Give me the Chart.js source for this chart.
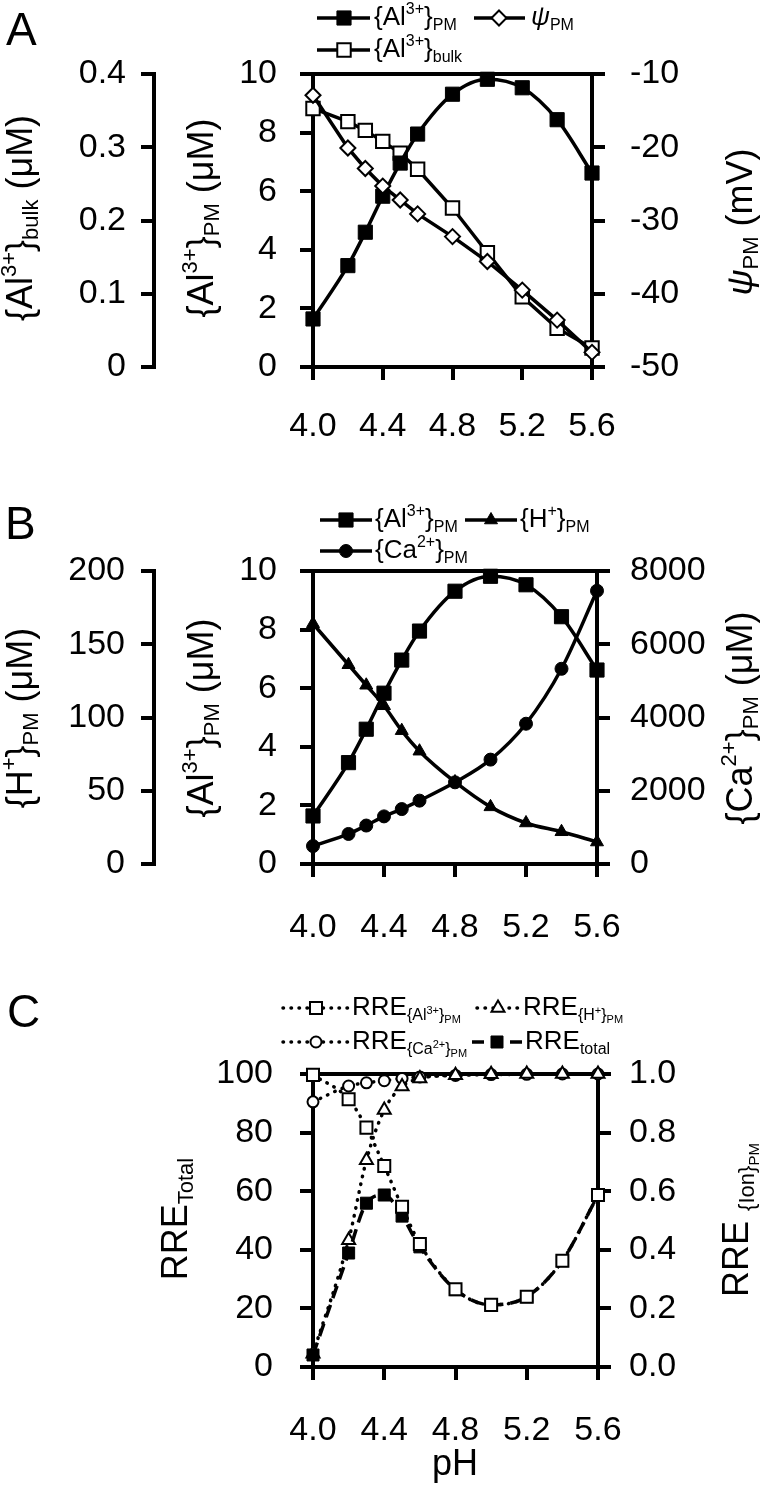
<!DOCTYPE html>
<html><head><meta charset="utf-8">
<script src="https://cdn.jsdelivr.net/npm/chart.js@4.4.1/dist/chart.umd.min.js"></script>
<style>
html,body{margin:0;padding:0;background:#fff;overflow:hidden}
.p{position:absolute;left:0;}
</style></head>
<body>
<canvas id="cA" class="p" style="top:0px" width="776" height="490"></canvas>
<canvas id="cB" class="p" style="top:490px" width="776" height="490"></canvas>
<canvas id="cC" class="p" style="top:980px" width="776" height="507"></canvas>
<script>
// ---------------- data ----------------
const pH = [4.0, 4.2, 4.3, 4.4, 4.5, 4.6, 4.8, 5.0, 5.2, 5.4, 5.6];
const alPM = [1.64, 3.46, 4.60, 5.83, 6.96, 7.95, 9.31, 9.82, 9.53, 8.44, 6.62];
const alBulk = [0.353, 0.335, 0.323, 0.308, 0.292, 0.270, 0.217, 0.156, 0.096, 0.053, 0.026];
const psiPM = [-12.9, -20.1, -22.9, -25.3, -27.2, -29.1, -32.2, -35.6, -39.5, -43.6, -48.0];
const hPM = [164, 136, 122, 108, 91, 77, 56, 39, 28, 22, 15];
const caPM = [490, 820, 1050, 1300, 1500, 1730, 2230, 2850, 3830, 5330, 7460];
const rreAl = [0.997, 0.914, 0.817, 0.686, 0.547, 0.420, 0.265, 0.212, 0.240, 0.363, 0.587];
const rreH = [0.045, 0.433, 0.706, 0.877, 0.957, 0.985, 0.996, 0.999, 1.0, 1.0, 1.0];
const rreCa = [0.905, 0.959, 0.970, 0.977, 0.985, 0.990, 0.995, 0.998, 0.999, 1.0, 1.0];
const rreTotal = [4.1, 38.9, 55.9, 58.7, 51.5, 41.0, 26.4, 21.2, 24.0, 36.3, 58.7];

// ---------------- ticks ----------------
const xTicks = [4.0, 4.4, 4.8, 5.2, 5.6];
const xLabels = ['4.0', '4.4', '4.8', '5.2', '5.6'];
const bulkTicks = [0, 0.1, 0.2, 0.3, 0.4];
const bulkLabels = ['0', '0.1', '0.2', '0.3', '0.4'];
const alTicks = [0, 2, 4, 6, 8, 10];
const alLabels = ['0', '2', '4', '6', '8', '10'];
const psiTicks = [-50, -40, -30, -20, -10];
const psiLabels = ['-50', '-40', '-30', '-20', '-10'];
const hTicks = [0, 50, 100, 150, 200];
const hLabels = ['0', '50', '100', '150', '200'];
const caTicks = [0, 2000, 4000, 6000, 8000];
const caLabels = ['0', '2000', '4000', '6000', '8000'];
const totTicks = [0, 20, 40, 60, 80, 100];
const totLabels = ['0', '20', '40', '60', '80', '100'];
const ionTicks = [0, 0.2, 0.4, 0.6, 0.8, 1.0];
const ionLabels = ['0.0', '0.2', '0.4', '0.6', '0.8', '1.0'];

// ---------------- helpers ----------------
const FONT = '"Liberation Sans", Arial, Helvetica, sans-serif';
const TICK_SIZE = 34;
const xy = (xs, ys) => xs.map((x, i) => ({x: x, y: ys[i]}));

function yScale(o) {
  return {
    type: 'linear', position: o.pos, min: o.min, max: o.max, weight: o.weight || 0,
    afterBuildTicks: s => { s.ticks = o.ticks.map(v => ({value: v})); },
    afterFit: s => { s.width = o.width; },
    ticks: {autoSkip: false, padding: o.pad, color: '#000', font: {family: FONT, size: TICK_SIZE},
            callback: (v, i) => o.labels[i]},
    grid: {display: true, drawOnChartArea: false, drawTicks: true, tickLength: 13, tickWidth: 4,
           tickColor: '#000', color: '#000', lineWidth: 4},
    border: {display: true, width: 4, color: '#000'}
  };
}
function xScale(h, pad) {
  return {
    type: 'linear', position: 'bottom', min: 4.0, max: 5.6,
    afterBuildTicks: s => { s.ticks = xTicks.map(v => ({value: v})); },
    afterFit: s => { s.height = h; },
    ticks: {autoSkip: false, maxRotation: 0, minRotation: 0, padding: pad, color: '#000',
            font: {family: FONT, size: TICK_SIZE}, callback: (v, i) => xLabels[i]},
    grid: {display: true, drawOnChartArea: false, drawTicks: true, tickLength: 13, tickWidth: 4,
           tickColor: '#000', color: '#000', lineWidth: 4},
    border: {display: true, width: 4, color: '#000'}
  };
}

// rich text segments
const N = t => ({t, s: 1, d: 0});
const I = t => ({t, s: 1, d: 0, i: true});
const SUP = t => ({t, s: 0.62, d: -0.33});
const SUB = t => ({t, s: 0.62, d: 0.28});
const SS = t => ({t, s: 0.43, d: 0.10});
const SB2 = t => ({t, s: 0.43, d: 0.46});
function segFont(s, base) { return (s.i ? 'italic ' : '') + Math.round(base * s.s) + 'px ' + FONT; }
function drawRich(ctx, segs, x, y, base, rot, align) {
  ctx.save();
  ctx.translate(x, y);
  if (rot) ctx.rotate(rot);
  let w = 0;
  for (const s of segs) { ctx.font = segFont(s, base); w += ctx.measureText(s.t).width; }
  let cx = align === 'left' ? 0 : -w / 2;
  ctx.textAlign = 'left'; ctx.textBaseline = 'middle'; ctx.fillStyle = '#000';
  for (const s of segs) {
    ctx.font = segFont(s, base);
    ctx.fillText(s.t, cx, s.d * base);
    cx += ctx.measureText(s.t).width;
  }
  ctx.restore();
}
function drawMarker(ctx, type, x, y, r, fill, stroke, lw) {
  ctx.save();
  ctx.setLineDash([]);
  ctx.beginPath();
  if (type === 'rect') { const s = r * Math.SQRT1_2; ctx.rect(x - s, y - s, 2 * s, 2 * s); }
  else if (type === 'rectRot') { ctx.moveTo(x, y - r); ctx.lineTo(x + r, y); ctx.lineTo(x, y + r); ctx.lineTo(x - r, y); ctx.closePath(); }
  else if (type === 'triangle') {
    let a = 0; ctx.moveTo(x + Math.sin(a) * r, y - Math.cos(a) * r);
    a += 2 * Math.PI / 3; ctx.lineTo(x + Math.sin(a) * r, y - Math.cos(a) * r);
    a += 2 * Math.PI / 3; ctx.lineTo(x + Math.sin(a) * r, y - Math.cos(a) * r);
    ctx.closePath();
  } else { ctx.arc(x, y, r, 0, Math.PI * 2); }
  ctx.fillStyle = fill; ctx.fill();
  if (lw > 0) { ctx.lineWidth = lw; ctx.strokeStyle = stroke; ctx.stroke(); }
  ctx.restore();
}
function makeDeco(cfg) {
  return {
    id: 'deco',
    beforeDatasetsDraw(chart) {
      const {ctx, chartArea: a} = chart;
      ctx.save(); ctx.strokeStyle = '#000'; ctx.lineWidth = 4;
      ctx.beginPath(); ctx.moveTo(a.left, a.top); ctx.lineTo(a.right, a.top); ctx.stroke();
      ctx.restore();
    },
    afterDraw(chart) {
      const ctx = chart.ctx;
      ctx.save();
      ctx.fillStyle = '#000'; ctx.textBaseline = 'middle'; ctx.textAlign = 'left';
      ctx.font = cfg.letter.size + 'px ' + FONT;
      ctx.fillText(cfg.letter.t, cfg.letter.x, cfg.letter.y);
      for (const t of cfg.titles) drawRich(ctx, t.segs, t.x, t.y, t.size, t.rot || 0, 'center');
      for (const e of cfg.legend) {
        const ds = chart.data.datasets[e.ds];
        ctx.save();
        ctx.strokeStyle = '#000';
        ctx.lineWidth = ds.borderWidth;
        ctx.lineCap = ds.borderCapStyle || 'butt';
        ctx.setLineDash(e.dash || ds.borderDash || []);
        ctx.beginPath(); ctx.moveTo(e.x0, e.y); ctx.lineTo(e.x1, e.y); ctx.stroke();
        ctx.restore();
        drawMarker(ctx, ds.pointStyle, e.mx, e.y, ds.pointRadius, ds.pointBackgroundColor, ds.pointBorderColor, ds.pointBorderWidth);
        drawRich(ctx, e.segs, e.tx, e.y, cfg.legendSize, 0, 'left');
      }
      ctx.restore();
    }
  };
}
const baseOpts = (padTop, scales) => ({
  responsive: false, animation: false, devicePixelRatio: 1, events: [],
  layout: {padding: {top: padTop, left: 0, right: 0, bottom: 0}},
  plugins: {legend: {display: false}, tooltip: {enabled: false}},
  scales: scales
});
const solid = {borderColor: '#000', borderWidth: 3.5, clip: false, pointBorderColor: '#000', pointHoverRadius: 0};
const dotted = {borderColor: '#000', borderWidth: 3.5, borderDash: [0.5, 7.5], borderCapStyle: 'round', clip: false, pointBorderColor: '#000', cubicInterpolationMode: 'monotone'};

// ---------------- Panel A ----------------
new Chart(document.getElementById('cA'), {
  type: 'line',
  data: {datasets: [
    Object.assign({data: xy(pH, psiPM), yAxisID: 'yPsi', pointStyle: 'rectRot', pointRadius: 7.5,
      pointBackgroundColor: '#fff', pointBorderWidth: 2, tension: 0}, solid),
    Object.assign({data: xy(pH, alPM), yAxisID: 'yAl', pointStyle: 'rect', pointRadius: 10,
      pointBackgroundColor: '#000', pointBorderWidth: 1, cubicInterpolationMode: 'monotone'}, solid),
    Object.assign({data: xy(pH, alBulk), yAxisID: 'yBulk', pointStyle: 'rect', pointRadius: 9.5,
      pointBackgroundColor: '#fff', pointBorderWidth: 2, tension: 0}, solid)
  ]},
  options: baseOpts(74, {
    x: xScale(123, 26),
    yBulk: yScale({pos: 'left', weight: 2, min: 0, max: 0.4, ticks: bulkTicks, labels: bulkLabels, width: 154, pad: 15}),
    yAl: yScale({pos: 'left', weight: 1, min: 0, max: 10, ticks: alTicks, labels: alLabels, width: 159, pad: 23}),
    yPsi: yScale({pos: 'right', weight: 1, min: -50, max: -10, ticks: psiTicks, labels: psiLabels, width: 184, pad: 25})
  }),
  plugins: [makeDeco({
    letter: {t: 'A', x: 6, y: 32, size: 46},
    legendSize: 26,
    titles: [
      {segs: [N('{Al'), SUP('3+'), N('}'), SUB('bulk'), N(' (μM)')], x: 22, y: 218, size: 36, rot: -Math.PI / 2},
      {segs: [N('{Al'), SUP('3+'), N('}'), SUB('PM'), N(' (μM)')], x: 203, y: 218, size: 36, rot: -Math.PI / 2},
      {segs: [I('ψ'), SUB('PM'), N(' (mV)')], x: 742, y: 222, size: 36, rot: -Math.PI / 2}
    ],
    legend: [
      {ds: 1, x0: 317, x1: 370, mx: 344, tx: 374, y: 18, segs: [N('{Al'), SUP('3+'), N('}'), SUB('PM')]},
      {ds: 0, x0: 474, x1: 525, mx: 499, tx: 531, y: 18, segs: [I('ψ'), SUB('PM')]},
      {ds: 2, x0: 317, x1: 370, mx: 344, tx: 374, y: 50, segs: [N('{Al'), SUP('3+'), N('}'), SUB('bulk')]}
    ]
  })]
});

// ---------------- Panel B ----------------
new Chart(document.getElementById('cB'), {
  type: 'line',
  data: {datasets: [
    Object.assign({data: xy(pH, alPM), yAxisID: 'yAl', pointStyle: 'rect', pointRadius: 10,
      pointBackgroundColor: '#000', pointBorderWidth: 1, cubicInterpolationMode: 'monotone'}, solid),
    Object.assign({data: xy(pH, hPM), yAxisID: 'yH', pointStyle: 'triangle', pointRadius: 7.5,
      pointBackgroundColor: '#000', pointBorderWidth: 1, cubicInterpolationMode: 'monotone'}, solid),
    Object.assign({data: xy(pH, caPM), yAxisID: 'yCa', pointStyle: 'circle', pointRadius: 6.5,
      pointBackgroundColor: '#000', pointBorderWidth: 1, cubicInterpolationMode: 'monotone'}, solid)
  ]},
  options: baseOpts(81, {
    x: xScale(116, 30),
    yH: yScale({pos: 'left', weight: 2, min: 0, max: 200, ticks: hTicks, labels: hLabels, width: 154, pad: 16}),
    yAl: yScale({pos: 'left', weight: 1, min: 0, max: 10, ticks: alTicks, labels: alLabels, width: 159, pad: 23}),
    yCa: yScale({pos: 'right', weight: 1, min: 0, max: 8000, ticks: caTicks, labels: caLabels, width: 179, pad: 20})
  }),
  plugins: [makeDeco({
    letter: {t: 'B', x: 5, y: 36, size: 46},
    legendSize: 26,
    titles: [
      {segs: [N('{H'), SUP('+'), N('}'), SUB('PM'), N(' (μM)')], x: 22, y: 228, size: 36, rot: -Math.PI / 2},
      {segs: [N('{Al'), SUP('3+'), N('}'), SUB('PM'), N(' (μM)')], x: 203, y: 228, size: 36, rot: -Math.PI / 2},
      {segs: [N('{Ca'), SUP('2+'), N('}'), SUB('PM'), N(' (μM)')], x: 742, y: 228, size: 36, rot: -Math.PI / 2}
    ],
    legend: [
      {ds: 0, x0: 320, x1: 372, mx: 346, tx: 375, y: 30, segs: [N('{Al'), SUP('3+'), N('}'), SUB('PM')]},
      {ds: 1, x0: 465, x1: 517, mx: 491, tx: 520, y: 30, segs: [N('{H'), SUP('+'), N('}'), SUB('PM')]},
      {ds: 2, x0: 320, x1: 372, mx: 346, tx: 375, y: 61, segs: [N('{Ca'), SUP('2+'), N('}'), SUB('PM')]}
    ]
  })]
});

// ---------------- Panel C ----------------
new Chart(document.getElementById('cC'), {
  type: 'line',
  data: {datasets: [
    Object.assign({data: xy(pH, rreAl), yAxisID: 'yIon', pointStyle: 'rect', pointRadius: 8.5,
      pointBackgroundColor: '#fff', pointBorderWidth: 2}, dotted),
    {data: xy(pH, rreTotal), yAxisID: 'yTot', pointStyle: 'rect', pointRadius: 8.5,
      pointBackgroundColor: '#000', pointBorderColor: '#000', pointBorderWidth: 1,
      borderColor: '#000', borderWidth: 3.5, borderDash: [13, 7], clip: false, cubicInterpolationMode: 'monotone'},
    Object.assign({data: xy(pH, rreH), yAxisID: 'yIon', pointStyle: 'triangle', pointRadius: 7.5,
      pointBackgroundColor: '#fff', pointBorderWidth: 2}, dotted),
    Object.assign({data: xy(pH, rreCa), yAxisID: 'yIon', pointStyle: 'circle', pointRadius: 5.5,
      pointBackgroundColor: '#fff', pointBorderWidth: 2}, dotted)
  ]},
  options: baseOpts(94, {
    x: xScale(120, 30),
    yTot: yScale({pos: 'left', weight: 1, min: 0, max: 100, ticks: totTicks, labels: totLabels, width: 313, pad: 27}),
    yIon: yScale({pos: 'right', weight: 1, min: 0, max: 1, ticks: ionTicks, labels: ionLabels, width: 178, pad: 18})
  }),
  plugins: [makeDeco({
    letter: {t: 'C', x: 7, y: 34, size: 46},
    legendSize: 26,
    titles: [
      {segs: [N('RRE'), SUB('Total')], x: 177, y: 239, size: 36, rot: -Math.PI / 2},
      {segs: [N('RRE '), SUB('{Ion}'), SB2('PM')], x: 738, y: 240, size: 36, rot: -Math.PI / 2},
      {segs: [N('pH')], x: 455, y: 485, size: 36}
    ],
    legend: [
      {ds: 0, x0: 283, x1: 348, mx: 316, tx: 352, y: 28, segs: [N('RRE'), SUB('{Al'), SS('3+'), SUB('}'), SB2('PM')]},
      {ds: 2, x0: 477, x1: 520, mx: 498, tx: 523, y: 28, segs: [N('RRE'), SUB('{H'), SS('+'), SUB('}'), SB2('PM')]},
      {ds: 3, x0: 283, x1: 348, mx: 316, tx: 352, y: 62, segs: [N('RRE'), SUB('{Ca'), SS('2+'), SUB('}'), SB2('PM')]},
      {ds: 1, x0: 472, x1: 522, mx: 497, tx: 525, y: 62, dash: [12, 26], segs: [N('RRE'), SUB('total')]}
    ]
  })]
});
</script>
</body></html>
